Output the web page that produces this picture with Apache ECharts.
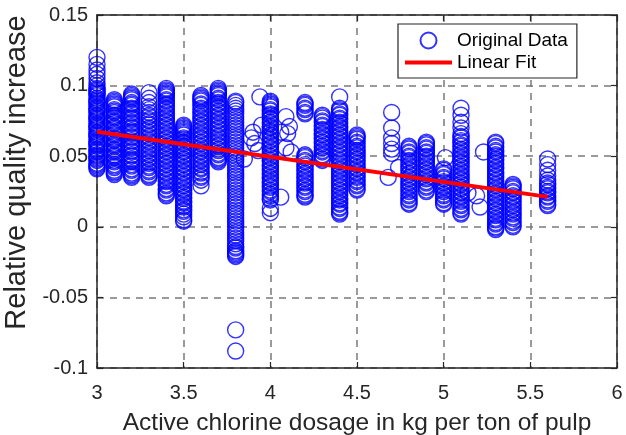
<!DOCTYPE html>
<html>
<head>
<meta charset="utf-8">
<script src="https://cdn.jsdelivr.net/npm/echarts@6/dist/echarts.min.js"></script>
<style>
  html, body { margin: 0; padding: 0; background: #fff; }
  #chart { width: 626px; height: 435px; }
</style>
</head>
<body>
<div id="chart"></div>
<script>
  // relative quality increase measured at each chlorine dosage (kg/t)
  const q30 = [0.041, 0.042, 0.043, 0.044, 0.045, 0.047, 0.048, 0.049, 0.050, 0.051, 0.053, 0.054, 0.055, 0.057, 0.058, 0.059, 0.060, 0.061, 0.063, 0.064, 0.065, 0.066, 0.067, 0.069, 0.070, 0.071, 0.072, 0.073, 0.075, 0.076, 0.077, 0.078, 0.079, 0.081, 0.082, 0.083, 0.084, 0.085, 0.087, 0.088, 0.089, 0.090, 0.091, 0.093, 0.094, 0.095, 0.096, 0.097, 0.098, 0.100, 0.102, 0.105, 0.108, 0.111, 0.115, 0.120]
  const q31 = [0.037, 0.038, 0.039, 0.040, 0.042, 0.043, 0.044, 0.046, 0.047, 0.049, 0.050, 0.051, 0.053, 0.054, 0.055, 0.057, 0.058, 0.059, 0.061, 0.062, 0.063, 0.065, 0.066, 0.067, 0.069, 0.070, 0.071, 0.073, 0.074, 0.075, 0.077, 0.078, 0.079, 0.081, 0.082, 0.083, 0.085, 0.086, 0.087, 0.088, 0.089, 0.090]
  const q32 = [0.035, 0.036, 0.037, 0.038, 0.040, 0.041, 0.043, 0.044, 0.046, 0.047, 0.048, 0.050, 0.051, 0.053, 0.054, 0.056, 0.057, 0.058, 0.060, 0.061, 0.063, 0.064, 0.066, 0.067, 0.068, 0.070, 0.071, 0.073, 0.074, 0.076, 0.077, 0.078, 0.080, 0.081, 0.083, 0.084, 0.086, 0.087, 0.088, 0.090, 0.091, 0.092, 0.093, 0.094]
  const q33 = [0.035, 0.036, 0.037, 0.039, 0.040, 0.042, 0.043, 0.045, 0.046, 0.048, 0.049, 0.051, 0.052, 0.054, 0.055, 0.057, 0.058, 0.060, 0.061, 0.063, 0.064, 0.066, 0.067, 0.069, 0.070, 0.072, 0.073, 0.075, 0.076, 0.078, 0.079, 0.081, 0.083, 0.085, 0.088, 0.091, 0.095]
  const q34 = [0.022, 0.023, 0.024, 0.026, 0.027, 0.029, 0.030, 0.032, 0.033, 0.035, 0.036, 0.038, 0.039, 0.041, 0.042, 0.044, 0.045, 0.047, 0.048, 0.050, 0.051, 0.053, 0.054, 0.056, 0.057, 0.059, 0.060, 0.062, 0.063, 0.065, 0.066, 0.068, 0.069, 0.071, 0.072, 0.074, 0.075, 0.077, 0.078, 0.080, 0.081, 0.083, 0.084, 0.086, 0.087, 0.089, 0.090, 0.092, 0.093, 0.094, 0.095, 0.096, 0.097, 0.098]
  const q35 = [0.004, 0.005, 0.007, 0.009, 0.011, 0.012, 0.014, 0.015, 0.017, 0.018, 0.020, 0.021, 0.023, 0.024, 0.026, 0.027, 0.029, 0.030, 0.032, 0.033, 0.035, 0.036, 0.038, 0.039, 0.041, 0.042, 0.044, 0.045, 0.047, 0.048, 0.050, 0.051, 0.053, 0.054, 0.056, 0.057, 0.059, 0.060, 0.062, 0.063, 0.065, 0.066, 0.067, 0.068, 0.069, 0.070, 0.071, 0.072]
  const q36 = [0.029, 0.033, 0.035, 0.036, 0.038, 0.039, 0.041, 0.042, 0.044, 0.045, 0.047, 0.048, 0.050, 0.051, 0.053, 0.054, 0.056, 0.057, 0.059, 0.060, 0.062, 0.063, 0.065, 0.066, 0.068, 0.069, 0.071, 0.072, 0.074, 0.075, 0.077, 0.078, 0.080, 0.081, 0.083, 0.084, 0.086, 0.087, 0.089, 0.090, 0.091, 0.092, 0.093]
  const q37 = [0.046, 0.047, 0.048, 0.049, 0.051, 0.052, 0.054, 0.055, 0.057, 0.058, 0.060, 0.061, 0.063, 0.064, 0.066, 0.067, 0.069, 0.070, 0.072, 0.073, 0.075, 0.076, 0.078, 0.079, 0.081, 0.082, 0.084, 0.085, 0.087, 0.088, 0.090, 0.091, 0.093, 0.094, 0.095, 0.096, 0.097, 0.098]
  const q38 = [-0.088, -0.073, -0.021, -0.020, -0.019, -0.018, -0.017, -0.015, -0.014, -0.012, -0.010, -0.008, -0.006, -0.004, -0.002, 0.000, 0.002, 0.004, 0.006, 0.008, 0.010, 0.012, 0.014, 0.016, 0.018, 0.020, 0.022, 0.024, 0.026, 0.028, 0.030, 0.032, 0.034, 0.036, 0.038, 0.040, 0.042, 0.044, 0.046, 0.048, 0.050, 0.052, 0.054, 0.056, 0.058, 0.060, 0.062, 0.064, 0.066, 0.068, 0.070, 0.072, 0.074, 0.076, 0.078, 0.080, 0.082, 0.084, 0.086, 0.088, 0.089]
  const q40 = [0.010, 0.013, 0.019, 0.020, 0.022, 0.023, 0.025, 0.026, 0.028, 0.029, 0.031, 0.032, 0.034, 0.035, 0.037, 0.038, 0.040, 0.041, 0.043, 0.044, 0.046, 0.047, 0.049, 0.050, 0.052, 0.053, 0.055, 0.056, 0.058, 0.059, 0.061, 0.062, 0.064, 0.065, 0.067, 0.068, 0.070, 0.071, 0.073, 0.074, 0.076, 0.077, 0.079, 0.080, 0.082, 0.083, 0.085, 0.086, 0.087, 0.088, 0.089]
  const q42 = [0.021, 0.022, 0.023, 0.025, 0.026, 0.028, 0.029, 0.031, 0.032, 0.034, 0.035, 0.037, 0.038, 0.040, 0.041, 0.043, 0.044, 0.046, 0.047, 0.049, 0.050, 0.051, 0.080, 0.081, 0.083, 0.084, 0.086, 0.087, 0.088]
  const q43 = [0.047, 0.048, 0.050, 0.051, 0.053, 0.054, 0.056, 0.057, 0.059, 0.060, 0.062, 0.063, 0.065, 0.066, 0.068, 0.069, 0.071, 0.072, 0.074, 0.075, 0.077, 0.078, 0.079]
  const q44 = [0.009, 0.010, 0.011, 0.013, 0.014, 0.016, 0.017, 0.019, 0.020, 0.022, 0.023, 0.025, 0.026, 0.028, 0.029, 0.031, 0.032, 0.034, 0.035, 0.037, 0.038, 0.040, 0.041, 0.043, 0.044, 0.046, 0.047, 0.049, 0.050, 0.052, 0.053, 0.055, 0.056, 0.058, 0.059, 0.061, 0.062, 0.064, 0.065, 0.067, 0.068, 0.070, 0.071, 0.073, 0.074, 0.076, 0.077, 0.079, 0.080, 0.082, 0.083, 0.084, 0.092]
  const q45 = [0.026, 0.027, 0.029, 0.030, 0.032, 0.033, 0.035, 0.036, 0.038, 0.039, 0.041, 0.042, 0.044, 0.045, 0.047, 0.048, 0.050, 0.051, 0.053, 0.054, 0.056, 0.057, 0.059, 0.060, 0.062, 0.063, 0.064, 0.065]
  const q48 = [0.016, 0.017, 0.019, 0.020, 0.022, 0.023, 0.025, 0.026, 0.028, 0.029, 0.031, 0.032, 0.034, 0.035, 0.037, 0.038, 0.040, 0.041, 0.043, 0.044, 0.046, 0.047, 0.049, 0.050, 0.052, 0.053, 0.055, 0.056, 0.057]
  const q49 = [0.025, 0.026, 0.028, 0.029, 0.031, 0.032, 0.034, 0.035, 0.037, 0.038, 0.040, 0.041, 0.043, 0.044, 0.046, 0.047, 0.049, 0.050, 0.052, 0.053, 0.055, 0.056, 0.058, 0.059, 0.060]
  const q50 = [0.016, 0.017, 0.019, 0.020, 0.022, 0.023, 0.025, 0.026, 0.028, 0.029, 0.031, 0.032, 0.034, 0.035, 0.037, 0.038, 0.040, 0.041]
  const q51 = [0.009, 0.010, 0.012, 0.013, 0.015, 0.016, 0.018, 0.019, 0.021, 0.022, 0.024, 0.025, 0.027, 0.028, 0.030, 0.031, 0.033, 0.034, 0.036, 0.037, 0.039, 0.040, 0.042, 0.043, 0.045, 0.046, 0.048, 0.049, 0.051, 0.052, 0.054, 0.055, 0.057, 0.058, 0.060, 0.061, 0.063, 0.064, 0.066, 0.070, 0.074, 0.079, 0.084]
  const q53 = [-0.002, -0.001, 0.000, 0.002, 0.003, 0.005, 0.006, 0.008, 0.009, 0.011, 0.012, 0.014, 0.015, 0.017, 0.018, 0.020, 0.021, 0.023, 0.024, 0.026, 0.027, 0.029, 0.030, 0.032, 0.033, 0.035, 0.036, 0.038, 0.039, 0.041, 0.042, 0.044, 0.045, 0.047, 0.048, 0.050, 0.051, 0.053, 0.054, 0.056, 0.057, 0.059, 0.060]
  const q54 = [0.000, 0.001, 0.003, 0.004, 0.006, 0.007, 0.009, 0.010, 0.012, 0.013, 0.015, 0.016, 0.018, 0.019, 0.021, 0.022, 0.024, 0.025, 0.027, 0.028, 0.029, 0.030]
  const q56 = [0.015, 0.016, 0.018, 0.019, 0.021, 0.022, 0.024, 0.025, 0.027, 0.028, 0.030, 0.031, 0.033, 0.036, 0.040, 0.044, 0.048]

  const dosageLevels = [3.0, 3.1, 3.2, 3.3, 3.4, 3.5, 3.6, 3.7, 3.8, 4.0, 4.2, 4.3, 4.4, 4.5, 4.8, 4.9, 5.0, 5.1, 5.3, 5.4, 5.6]
  const qualityLevels = [q30, q31, q32, q33, q34, q35, q36, q37, q38, q40, q42, q43, q44, q45, q48, q49, q50, q51, q53, q54, q56]

  // loose points between the dosage levels
  const looseX = [3.94, 3.95, 3.90, 3.89, 3.91, 3.85, 3.93, 4.09, 4.11, 4.06, 4.10, 4.09, 4.12, 4.06, 4.70, 4.70, 4.70, 4.70, 4.70, 4.70, 4.68, 4.74, 5.01, 5.14, 5.19, 5.21, 5.23]
  const looseY = [0.092, 0.072, 0.067, 0.063, 0.059, 0.048, 0.054, 0.078, 0.071, 0.067, 0.066, 0.056, 0.053, 0.021, 0.081, 0.070, 0.063, 0.059, 0.055, 0.052, 0.035, 0.042, 0.049, 0.024, 0.022, 0.014, 0.053]

  // linear fit end points
  const fitX = [3.0, 5.6]
  const fitY = [0.0673, 0.0212]

  const xTicks = { min: 3, max: 6, interval: 0.5 }
  const yTicks = { min: -0.1, max: 0.15, interval: 0.05 }

  let points = []
  dosageLevels.forEach((x, i) => {
    qualityLevels[i].forEach(y => points.push([x, y]))
  })
  looseX.forEach((x, i) => points.push([x, looseY[i]]))

  const fitLine = fitX.map((x, i) => [x, fitY[i]])

  const axisColor = '#262626'
  const gridColor = '#7a7a7a'
  const font = '"Liberation Sans", Arial, Helvetica, sans-serif'

  let myChart = echarts.init(document.getElementById('chart'), null, { renderer: 'canvas' })
  myChart.setOption({
    animation: false,
    backgroundColor: '#fff',
    textStyle: { fontFamily: font },
    grid: { left: 97, right: 9, top: 15, bottom: 67, outerBoundsMode: 'none' },
    legend: {
      orient: 'vertical',
      left: 398,
      top: 24,
      padding: [7, 9, 6, 7],
      itemGap: 3,
      itemWidth: 47,
      itemHeight: 16,
      backgroundColor: '#fff',
      borderColor: axisColor,
      borderWidth: 1.2,
      textStyle: { fontSize: 19, color: '#000', fontFamily: font },
      data: [
        'Original Data',
        // plain red bar as in the reference legend, no marker dot
        { name: 'Linear Fit', icon: 'path://M0,0 L47,0 L47,4 L0,4 Z' }
      ]
    },
    xAxis: [
      {
        type: 'value',
        min: xTicks.min, max: xTicks.max, interval: xTicks.interval,
        name: 'Active chlorine dosage in kg per ton of pulp',
        nameLocation: 'middle',
        nameGap: 43,
        nameTextStyle: { fontSize: 24.5, color: axisColor },
        axisLine: { onZero: false, lineStyle: { color: axisColor, width: 1.5 } },
        axisTick: { inside: true, length: 6, lineStyle: { color: axisColor, width: 1.2 } },
        axisLabel: { fontSize: 20, color: axisColor, margin: 15 },
        splitLine: { show: true, lineStyle: { color: gridColor, width: 1.5, type: [7, 6] } }
      },
      {
        type: 'value', position: 'top',
        min: xTicks.min, max: xTicks.max, interval: xTicks.interval,
        axisLine: { onZero: false, lineStyle: { color: axisColor, width: 1.5 } },
        axisTick: { inside: true, length: 6, lineStyle: { color: axisColor, width: 1.2 } },
        axisLabel: { show: false },
        splitLine: { show: false }
      }
    ],
    yAxis: [
      {
        type: 'value',
        min: yTicks.min, max: yTicks.max, interval: yTicks.interval,
        name: 'Relative quality increase',
        nameLocation: 'middle',
        nameGap: 58,
        nameTextStyle: { fontSize: 29, color: axisColor, padding: [0, 0, 0, 38] },
        axisLine: { onZero: false, lineStyle: { color: axisColor, width: 1.5 } },
        axisTick: { inside: true, length: 6, lineStyle: { color: axisColor, width: 1.2 } },
        axisLabel: { fontSize: 20, color: axisColor, margin: 9 },
        splitLine: { show: true, lineStyle: { color: gridColor, width: 1.5, type: [7, 6] } }
      },
      {
        type: 'value', position: 'right',
        min: yTicks.min, max: yTicks.max, interval: yTicks.interval,
        axisLine: { onZero: false, lineStyle: { color: axisColor, width: 1.5 } },
        axisTick: { inside: true, length: 6, lineStyle: { color: axisColor, width: 1.2 } },
        axisLabel: { show: false },
        splitLine: { show: false }
      }
    ],
    series: [
      {
        name: 'Original Data',
        type: 'scatter',
        symbol: 'circle',
        symbolSize: 16,
        itemStyle: { color: 'rgba(0,0,0,0)', borderColor: '#0000ff', borderWidth: 1.4 },
        data: points,
        z: 3
      },
      {
        name: 'Linear Fit',
        type: 'line',
        symbol: 'none',
        lineStyle: { color: '#ff0000', width: 4 },
        itemStyle: { color: '#ff0000' },
        data: fitLine,
        z: 4
      }
    ]
  })
</script>
</body>
</html>
